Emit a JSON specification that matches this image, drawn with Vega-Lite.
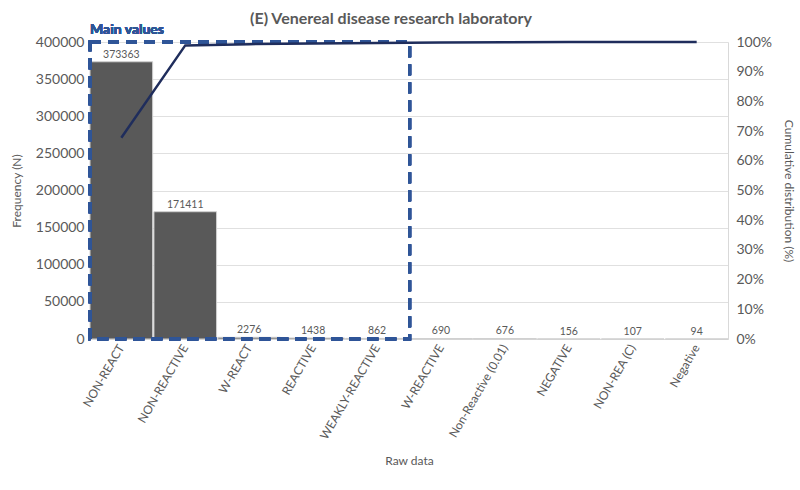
{
  "$schema": "https://vega.github.io/schema/vega-lite/v6.json",
  "autosize": "none",
  "width": 638,
  "height": 297,
  "padding": {"left": 90, "top": 42, "right": 72, "bottom": 151},
  "config": {
    "font": "Lato",
    "view": {"stroke": null},
    "axis": {"labelColor": "#595959", "titleColor": "#595959", "titleFontWeight": "normal", "labelFont": "Lato", "titleFont": "Lato"}
  },
  "title": {"text": "(E) Venereal disease research laboratory", "fontSize": 16, "fontWeight": "bold", "color": "#595959", "font": "Lato", "offset": 0, "dx": -18, "dy": 4},
  "data": {
    "values": [
      {"cat": "NON-REACT", "n": 373363, "cum": 0.6775},
      {"cat": "NON-REACTIVE", "n": 171411, "cum": 0.9886},
      {"cat": "W-REACT", "n": 2276, "cum": 0.9927},
      {"cat": "REACTIVE", "n": 1438, "cum": 0.9953},
      {"cat": "WEAKLY-REACTIVE", "n": 862, "cum": 0.9969},
      {"cat": "W-REACTIVE", "n": 690, "cum": 0.9981},
      {"cat": "Non-Reactive (0.01)", "n": 676, "cum": 0.9994},
      {"cat": "NEGATIVE", "n": 156, "cum": 0.9996},
      {"cat": "NON-REA (C)", "n": 107, "cum": 0.9998},
      {"cat": "Negative", "n": 94, "cum": 1.0}
    ]
  },
  "encoding": {
    "x": {"field": "cat", "type": "nominal", "sort": null, "title": "Raw data",
      "scale": {"paddingInner": 0.02, "paddingOuter": 0},
      "axis": {"labelAngle": -60, "labelFontSize": 12, "titleFontSize": 12, "titlePadding": 14, "domainColor": "#d9d9d9", "ticks": false, "labelPadding": 6}}
  },
  "layer": [
    {
      "encoding": {
        "y": {"field": "n", "type": "quantitative", "title": "Frequency (N)",
          "scale": {"domain": [0, 400000], "nice": false},
          "axis": {"values": [0, 50000, 100000, 150000, 200000, 250000, 300000, 350000, 400000], "format": "d", "labelFontSize": 14, "titleFontSize": 12, "gridColor": "#e0e0e0", "domain": false, "ticks": false, "labelPadding": 6, "titlePadding": 12}}
      },
      "layer": [
        {"mark": {"type": "bar", "color": "#595959", "stroke": "#d0d0d0", "strokeWidth": 1}},
        {"mark": {"type": "text", "dy": -7, "fontSize": 10.5, "color": "#595959"}, "encoding": {"text": {"field": "n", "type": "quantitative", "format": "d"}}},
        {"mark": {"type": "rect", "fill": null, "fillOpacity": 0, "stroke": "#2f5597", "strokeWidth": 3, "strokeDash": [11, 7]},
          "encoding": {
            "x": {"datum": "NON-REACT", "bandPosition": 0},
            "x2": {"datum": "W-REACTIVE", "bandPosition": 0},
            "y": {"datum": 0},
            "y2": {"datum": 400000}
          }},
        {"mark": {"type": "text", "align": "left", "baseline": "bottom", "dy": -5, "fontSize": 14, "fontWeight": "bold", "color": "#2f5597", "text": "Main values"},
          "encoding": {"x": {"datum": "NON-REACT", "bandPosition": 0}, "y": {"datum": 400000}}}
      ]
    },
    {
      "mark": {"type": "line", "color": "#1f2d5c", "strokeWidth": 2.5},
      "encoding": {
        "y": {"field": "cum", "type": "quantitative", "title": "Cumulative distribution (%)",
          "scale": {"domain": [0, 1], "nice": false},
          "axis": {"orient": "right", "values": [0, 0.1, 0.2, 0.3, 0.4, 0.5, 0.6, 0.7, 0.8, 0.9, 1], "format": ".0%", "labelFontSize": 14, "titleFontSize": 12, "grid": false, "domainColor": "#d9d9d9", "ticks": false, "labelPadding": 8, "titlePadding": 10}}
      }
    }
  ],
  "resolve": {"scale": {"y": "independent"}}
}
